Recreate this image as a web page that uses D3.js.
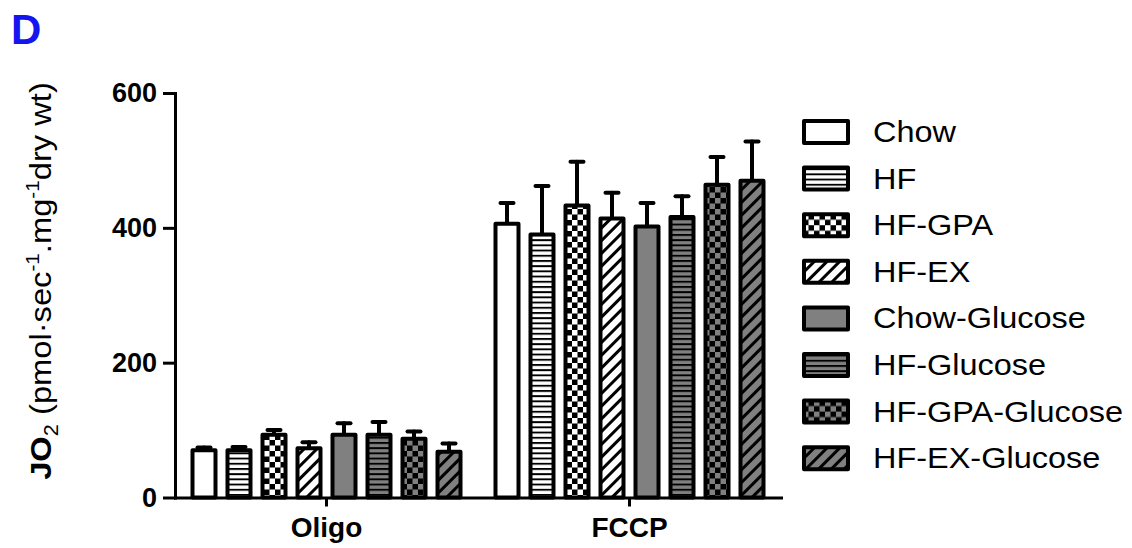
<!DOCTYPE html>
<html>
<head>
<meta charset="utf-8">
<script src="https://cdn.jsdelivr.net/npm/d3@7"></script>
<style>
body { margin: 0; background: #fff; }
svg { display: block; }
text { font-family: "Liberation Sans", Arial, sans-serif; fill: #000; }
</style>
</head>
<body>
<svg id="chart"></svg>
<script>
var width = 1132;
var height = 548;

// data
var conditions = ["Oligo", "FCCP"];
var groups = ["Chow", "HF", "HF-GPA", "HF-EX", "Chow-Glucose", "HF-Glucose", "HF-GPA-Glucose", "HF-EX-Glucose"];
var oligoMeans = [70, 70, 93, 73, 93, 93, 87, 68];
var oligoErrors = [4, 5, 7, 9, 17, 19, 11, 12];
var fccpMeans = [406, 390, 433, 414, 402, 416, 464, 470];
var fccpErrors = [31, 72, 65, 38, 35, 31, 41, 58];
var yTicks = [0, 200, 400, 600];

// fill style per group (kind of hatch + background)
var fillKinds = ["solid", "hlines", "checker", "diag", "solid", "hlines", "checker", "diag"];
var fillBgs = ["#fff", "#fff", "#fff", "#fff", "#808080", "#808080", "#808080", "#808080"];

var svg = d3.select("#chart").attr("width", width).attr("height", height);
var defs = svg.append("defs");

function makeFill(i) {
    var kind = fillKinds[i], bg = fillBgs[i];
    if (kind === "solid") return bg;
    var id = "pat" + i;
    var p = defs.append("pattern").attr("id", id).attr("patternUnits", "userSpaceOnUse");
    if (kind === "hlines") {
        p.attr("width", 6).attr("height", 5.2);
        p.append("rect").attr("width", 6).attr("height", 5.2).attr("fill", bg);
        p.append("rect").attr("width", 6).attr("height", 1.9).attr("fill", "#000");
    } else if (kind === "checker") {
        p.attr("width", 11).attr("height", 11);
        p.append("rect").attr("width", 11).attr("height", 11).attr("fill", "#000");
        p.append("rect").attr("width", 5.5).attr("height", 5.5).attr("fill", bg);
        p.append("rect").attr("x", 5.5).attr("y", 5.5).attr("width", 5.5).attr("height", 5.5).attr("fill", bg);
    } else if (kind === "diag") {
        p.attr("width", 9).attr("height", 9).attr("patternTransform", "rotate(45)");
        p.append("rect").attr("width", 9).attr("height", 9).attr("fill", bg);
        p.append("rect").attr("width", 3).attr("height", 9).attr("fill", "#000");
    }
    return "url(#" + id + ")";
}
var fills = groups.map((g, i) => makeFill(i));

var x = d3.scaleBand().domain(conditions).range([175, 781]);
var xInner = d3.scaleBand().domain(groups).range([-140, 140]);
var y = d3.scaleLinear().domain([0, 600]).range([497.5, 93]);

var rows = [];
conditions.forEach((c, ci) => {
    var means = ci === 0 ? oligoMeans : fccpMeans;
    var errs = ci === 0 ? oligoErrors : fccpErrors;
    groups.forEach((g, gi) => {
        rows.push({cond: c, group: g, gi: gi, mean: means[gi], err: errs[gi]});
    });
});
var cx = d => x(d.cond) + x.bandwidth() / 2 + xInner(d.group) + xInner.bandwidth() / 2;

// error bars (upper only)
var eb = svg.append("g").attr("stroke", "#000").attr("stroke-width", 4).attr("stroke-linecap", "round");
eb.selectAll(".stem").data(rows).enter().append("line")
    .attr("x1", cx).attr("x2", cx)
    .attr("y1", d => y(d.mean)).attr("y2", d => y(d.mean + d.err));
eb.selectAll(".cap").data(rows).enter().append("line")
    .attr("x1", d => cx(d) - 6.5).attr("x2", d => cx(d) + 6.5)
    .attr("y1", d => y(d.mean + d.err)).attr("y2", d => y(d.mean + d.err));

// bars
svg.append("g").selectAll("rect").data(rows).enter().append("rect")
    .attr("x", d => cx(d) - 11.5)
    .attr("width", 23)
    .attr("y", d => y(d.mean))
    .attr("height", d => y(0) - y(d.mean))
    .attr("fill", d => fills[d.gi])
    .attr("stroke", "#000")
    .attr("stroke-width", 4)
    .attr("stroke-linejoin", "round");

// axes
var yAxis = svg.append("g").attr("transform", "translate(175,0)")
    .call(d3.axisLeft(y).tickValues(yTicks).tickSize(12).tickSizeOuter(0).tickPadding(6));
var xAxis = svg.append("g").attr("transform", "translate(0,497.5)")
    .call(d3.axisBottom(x).tickSize(9).tickSizeOuter(0).tickPadding(10.5));
[yAxis, xAxis].forEach(a => {
    a.select(".domain").attr("stroke-width", 3).attr("stroke-linecap", "square");
    a.selectAll(".tick line").attr("stroke-width", 3);
    a.selectAll(".tick text").attr("font-family", "Liberation Sans, Arial, sans-serif")
        .attr("font-weight", "bold");
});
yAxis.selectAll(".tick text").attr("font-size", 27);
xAxis.selectAll(".tick text").attr("font-size", 28);

// y title
var title = svg.append("text")
    .attr("transform", "translate(51,281) rotate(-90) scale(1.09,1)")
    .attr("text-anchor", "middle")
    .attr("font-size", 30);
title.append("tspan").attr("font-weight", "bold").text("JO");
title.append("tspan").attr("font-size", 20).attr("dy", 7).text("2");
title.append("tspan").attr("dy", -7).text(" (pmol\u00b7sec");
title.append("tspan").attr("font-size", 19).attr("dy", -12).text("-1");
title.append("tspan").attr("dy", 12).text(".mg");
title.append("tspan").attr("font-size", 19).attr("dy", -12).text("-1");
title.append("tspan").attr("dy", 12).text("dry wt)");

// legend
var legend = svg.append("g").selectAll("g").data(groups).enter().append("g")
    .attr("transform", (d, i) => "translate(0," + (132 + i * 46.6) + ")");
legend.append("rect")
    .attr("x", 804).attr("y", -11).attr("width", 44).attr("height", 22)
    .attr("fill", (d, i) => fills[i])
    .attr("stroke", "#000").attr("stroke-width", 4).attr("stroke-linejoin", "round");
legend.append("text")
    .attr("transform", "translate(873,10) scale(1.12,1)")
    .attr("font-size", 29)
    .text(d => d);

// panel letter
svg.append("text").attr("x", 11).attr("y", 44)
    .attr("font-size", 42).attr("font-weight", "bold")
    .style("fill", "#1515f0").text("D");
</script>
</body>
</html>
